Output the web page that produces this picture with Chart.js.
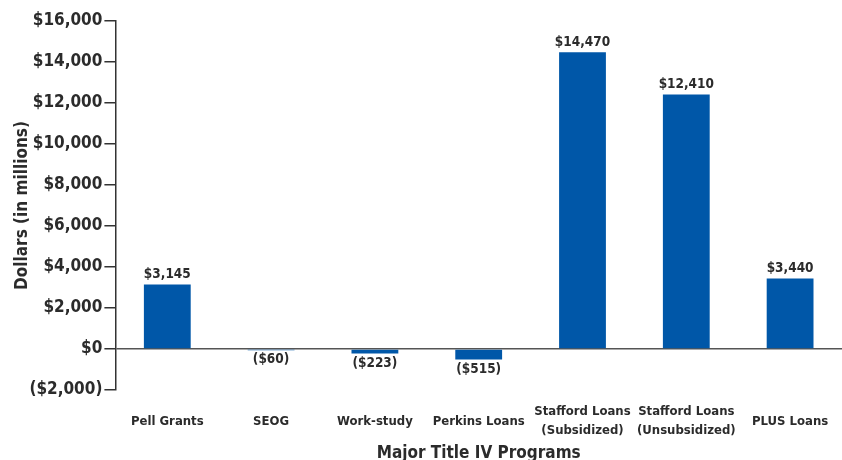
<!DOCTYPE html>
<html>
<head>
<meta charset="utf-8">
<script src="https://cdn.jsdelivr.net/npm/chart.js@4.4.1/dist/chart.umd.min.js"></script>
<style>
  html, body { margin: 0; padding: 0; background: #fff; }
  #wrap { width: 842px; height: 460px; }
</style>
</head>
<body>
<div id="wrap"><canvas id="chartTitleIV"></canvas></div>
<script>
// Variação por programa do Título IV (em milhões de dólares)
const programs = [
    'Pell Grants',
    'SEOG',
    'Work-study',
    'Perkins Loans',
    ['Stafford Loans', '(Subsidized)'],
    ['Stafford Loans', '(Unsubsidized)'],
    'PLUS Loans'
];
const amounts = [3145, -60, -223, -515, 14470, 12410, 3440];
const yTicks = [-2000, 0, 2000, 4000, 6000, 8000, 10000, 12000, 14000, 16000];

const FONT = '"DejaVu Sans Condensed", "Liberation Sans Narrow", "Liberation Sans", sans-serif';
const TEXT = '#2b2b2b';
const BAR = '#0057a8';

function money(v) {
    const s = '$' + Math.abs(v).toLocaleString('en-US');
    return v < 0 ? '(' + s + ')' : s;
}

// rótulos de valor acima/abaixo de cada barra
const valueLabels = {
    id: 'valueLabels',
    afterDatasetsDraw(chart) {
        const ctx = chart.ctx;
        const meta = chart.getDatasetMeta(0);
        ctx.save();
        ctx.font = 'bold 13.5px ' + FONT;
        ctx.fillStyle = TEXT;
        ctx.textAlign = 'center';
        meta.data.forEach((bar, i) => {
            const v = amounts[i];
            if (v >= 0) {
                ctx.textBaseline = 'bottom';
                ctx.fillText(money(v), bar.x, bar.y - 3);
            } else {
                ctx.textBaseline = 'top';
                ctx.fillText(money(v), bar.x, bar.y + 3);
            }
        });
        ctx.restore();
    }
};

new Chart(document.getElementById('chartTitleIV').getContext('2d'), {
    type: 'bar',
    data: {
        labels: programs,
        datasets: [{
            data: amounts,
            backgroundColor: BAR,
            borderWidth: 0,
            barPercentage: 0.55,
            categoryPercentage: 0.82
        }]
    },
    options: {
        responsive: true,
        maintainAspectRatio: false,
        animation: false,
        layout: { padding: { top: 21, right: 0, left: 12, bottom: 0 } },
        plugins: {
            legend: { display: false },
            tooltip: { enabled: false }
        },
        scales: {
            y: {
                min: -2000,
                max: 16000,
                afterBuildTicks(axis) {
                    axis.ticks = yTicks.map(v => ({ value: v }));
                },
                afterFit(axis) {
                    axis.width -= 5;
                },
                border: { display: true, color: '#333', width: 1.5 },
                grid: {
                    drawOnChartArea: true,
                    color: c => (c.tick && c.tick.value === 0) ? '#555' : 'rgba(0,0,0,0)',
                    lineWidth: 1.5,
                    tickColor: '#333',
                    tickLength: 11,
                    tickWidth: 1.5
                },
                ticks: {
                    color: TEXT,
                    font: { family: FONT, size: 17, weight: 'bold' },
                    padding: 2,
                    callback: v => money(v)
                },
                title: {
                    display: true,
                    text: 'Dollars (in millions)',
                    color: TEXT,
                    font: { family: FONT, size: 17, weight: 'bold' },
                    padding: { top: 0, bottom: 0 }
                }
            },
            x: {
                afterFit(axis) {
                    axis.height = 70;
                },
                border: { display: false },
                grid: { display: false, drawTicks: true, tickLength: 11 },
                ticks: {
                    color: TEXT,
                    font: { family: FONT, size: 13, weight: 'bold', lineHeight: '19px' },
                    padding: 11,
                    crossAlign: 'center',
                    maxRotation: 0,
                    autoSkip: false
                },
                title: {
                    display: true,
                    text: 'Major Title IV Programs',
                    color: TEXT,
                    font: { family: FONT, size: 17, weight: 'bold' },
                    padding: { top: 0, bottom: -4 }
                }
            }
        }
    },
    plugins: [valueLabels]
});
</script>
</body>
</html>
